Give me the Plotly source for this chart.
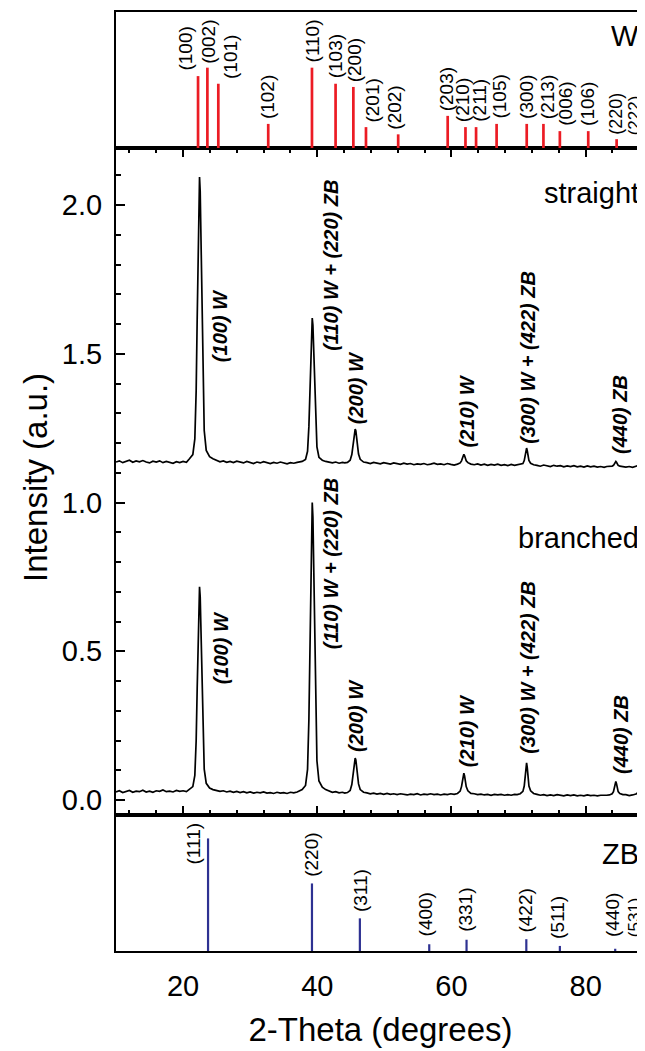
import plotly.graph_objects as go

FONT = "Liberation Sans, Arial, Helvetica, sans-serif"

# ---------------- data ----------------
# Wurtzite (W) reference pattern
W_hkl = ["(100)", "(002)", "(101)", "(102)", "(110)", "(103)", "(200)", "(201)", "(202)",
         "(203)", "(210)", "(211)", "(105)", "(300)", "(213)", "(006)", "(106)", "(220)", "(222)"]
W_pos = [22.23, 23.62, 25.25, 32.69, 39.21, 42.73, 45.38, 47.26, 52.06,
         59.44, 62.09, 63.67, 66.73, 71.22, 73.71, 76.16, 80.39, 84.62, 89.0]
W_int = [89.5, 100, 80, 30, 100, 80, 76, 26, 17,
         40, 26, 26, 30, 30, 30, 21, 21, 11, 12]

# Zinc blende (ZB) reference pattern
ZB_hkl = ["(111)", "(220)", "(311)", "(400)", "(331)", "(422)", "(511)", "(440)", "(531)"]
ZB_pos = [23.72, 39.21, 46.35, 56.69, 62.25, 71.16, 76.16, 84.41, 89.0]
ZB_int = [100, 60, 29, 6, 10, 10.5, 4.5, 2, 4]

# Measured patterns (2-theta, intensity)
two_theta = [
    10.0, 10.5, 11.0, 11.5, 12.0, 12.5, 13.0, 13.5, 14.0, 14.5, 15.0, 15.5, 16.0, 16.5, 17.0, 17.5,
    18.0, 18.5, 19.0, 19.5, 20.0, 20.5,
    20.95, 21.45, 21.75, 21.95, 22.10, 22.25, 22.35, 22.45, 22.55, 22.65, 22.80, 22.95, 23.15, 23.45,
    23.95, 24.45,
    25.0, 25.5, 26.0, 26.5, 27.0, 27.5, 28.0, 28.5, 29.0, 29.5, 30.0, 30.5, 31.0, 31.5, 32.0, 32.5,
    33.0, 33.5, 34.0, 34.5, 35.0, 35.5, 36.0, 36.5, 37.0, 37.4,
    37.75, 38.25, 38.55, 38.75, 38.90, 39.05, 39.15, 39.25, 39.35, 39.45, 39.60, 39.75, 39.95, 40.25,
    40.75, 41.25,
    41.75, 42.25, 42.75, 43.25, 43.75, 44.1,
    44.5, 44.9, 45.15, 45.3, 45.45, 45.55, 45.65, 45.75, 45.85, 46.0, 46.15, 46.4, 46.9,
    47.4, 47.9, 48.4, 48.9, 49.4, 49.9, 50.4, 50.9, 51.4, 51.9, 52.4, 52.9, 53.4, 53.9, 54.4, 54.9,
    55.4, 55.9, 56.4, 56.9, 57.4, 57.9, 58.4, 58.9, 59.4, 59.9, 60.4,
    60.9, 61.3, 61.5, 61.65, 61.75, 61.85, 61.95, 62.05, 62.2, 62.45, 62.9,
    63.4, 63.9, 64.4, 64.9, 65.4, 65.9, 66.4, 66.9, 67.4, 67.9, 68.4, 68.9, 69.4, 69.8,
    70.25, 70.65, 70.85, 71.0, 71.1, 71.2, 71.3, 71.4, 71.55, 71.8, 72.25,
    72.75, 73.25, 73.75, 74.25, 74.75, 75.25, 75.75, 76.25, 76.75, 77.25, 77.75, 78.25, 78.75, 79.25,
    79.75, 80.25, 80.75, 81.25, 81.75, 82.25, 82.75, 83.15,
    83.55, 83.95, 84.15, 84.3, 84.4, 84.5, 84.6, 84.7, 84.85, 85.1, 85.55,
    86.0, 86.5, 87.0, 87.5, 87.9, 88.3, 88.6, 88.9,
]
straight_int = [
    1.136, 1.140, 1.134, 1.139, 1.142, 1.135, 1.140, 1.137, 1.141, 1.136, 1.133, 1.139, 1.136, 1.140,
    1.134, 1.138, 1.135, 1.132, 1.137, 1.134, 1.138, 1.135,
    1.147, 1.161, 1.214, 1.376, 1.616, 1.903, 2.046, 2.094, 2.046, 1.903, 1.616, 1.395, 1.242, 1.175,
    1.154, 1.147,
    1.141, 1.137, 1.140, 1.135, 1.138, 1.134, 1.139, 1.136, 1.133, 1.138, 1.135, 1.131, 1.136, 1.133,
    1.137, 1.134, 1.131, 1.135, 1.132, 1.136, 1.133, 1.130, 1.134, 1.132, 1.135, 1.136,
    1.138, 1.145, 1.172, 1.255, 1.377, 1.523, 1.596, 1.620, 1.596, 1.523, 1.377, 1.265, 1.187, 1.152,
    1.142, 1.138,
    1.136, 1.133, 1.136, 1.132, 1.135, 1.133,
    1.135, 1.142, 1.161, 1.190, 1.224, 1.241, 1.247, 1.241, 1.224, 1.190, 1.163, 1.145, 1.136,
    1.134, 1.131, 1.135, 1.132, 1.130, 1.134, 1.131, 1.129, 1.133, 1.130, 1.128, 1.132, 1.129, 1.131,
    1.127, 1.130, 1.128, 1.131, 1.127, 1.129, 1.132, 1.128, 1.130, 1.127, 1.131, 1.128, 1.126,
    1.129, 1.133, 1.140, 1.150, 1.158, 1.162, 1.158, 1.150, 1.140, 1.134, 1.129,
    1.127, 1.130, 1.126, 1.129, 1.125, 1.128, 1.126, 1.129, 1.125, 1.127, 1.124, 1.128, 1.125, 1.127,
    1.127, 1.131, 1.141, 1.157, 1.174, 1.183, 1.174, 1.157, 1.141, 1.132, 1.127,
    1.125, 1.122, 1.126, 1.123, 1.121, 1.125, 1.122, 1.124, 1.120, 1.123, 1.121, 1.124, 1.120, 1.122,
    1.119, 1.123, 1.120, 1.122, 1.119, 1.121, 1.118, 1.121,
    1.121, 1.122, 1.125, 1.130, 1.135, 1.138, 1.135, 1.130, 1.125, 1.122, 1.121,
    1.119, 1.121, 1.118, 1.122, 1.125, 1.133, 1.137, 1.135,
]
branched_int = [
    0.027, 0.031, 0.025, 0.029, 0.032, 0.026, 0.030, 0.028, 0.033, 0.027, 0.030, 0.026, 0.031, 0.029,
    0.034, 0.028, 0.030, 0.027, 0.032, 0.029, 0.031, 0.028,
    0.035, 0.045, 0.083, 0.200, 0.373, 0.579, 0.683, 0.717, 0.683, 0.579, 0.373, 0.214, 0.104, 0.056,
    0.040, 0.035,
    0.032, 0.029, 0.031, 0.027, 0.030, 0.026, 0.029, 0.025, 0.028, 0.024, 0.027, 0.023, 0.026, 0.024,
    0.027, 0.023, 0.025, 0.022, 0.026, 0.023, 0.025, 0.022, 0.026, 0.024, 0.027, 0.030,
    0.035, 0.049, 0.103, 0.269, 0.513, 0.805, 0.951, 1.000, 0.951, 0.805, 0.513, 0.288, 0.132, 0.064,
    0.043, 0.035,
    0.030, 0.026, 0.028, 0.024, 0.026, 0.023,
    0.025, 0.032, 0.052, 0.082, 0.117, 0.135, 0.141, 0.135, 0.117, 0.082, 0.054, 0.035, 0.026,
    0.024, 0.021, 0.023, 0.020, 0.022, 0.019, 0.022, 0.019, 0.021, 0.018, 0.021, 0.019, 0.017, 0.020,
    0.018, 0.021, 0.017, 0.020, 0.018, 0.021, 0.018, 0.020, 0.017, 0.020, 0.018, 0.021, 0.019,
    0.022, 0.030, 0.045, 0.065, 0.082, 0.090, 0.082, 0.065, 0.045, 0.031, 0.022,
    0.021, 0.018, 0.020, 0.017, 0.019, 0.016, 0.019, 0.017, 0.019, 0.016, 0.018, 0.016, 0.019, 0.018,
    0.021, 0.029, 0.047, 0.077, 0.109, 0.125, 0.109, 0.077, 0.047, 0.031, 0.022,
    0.019, 0.016, 0.018, 0.015, 0.017, 0.015, 0.018, 0.016, 0.014, 0.017, 0.015, 0.017, 0.014, 0.016,
    0.014, 0.017, 0.015, 0.016, 0.014, 0.016, 0.015, 0.016,
    0.017, 0.021, 0.028, 0.041, 0.055, 0.062, 0.055, 0.041, 0.028, 0.022, 0.018,
    0.018, 0.015, 0.017, 0.020, 0.026, 0.036, 0.041, 0.040,
]
assert len(two_theta) == len(straight_int) == len(branched_int)

peak_labels = ["(100) W", "(110) W + (220) ZB", "(200) W", "(210) W", "(300) W + (422) ZB", "(440) ZB"]
sample_names = ["straight", "branched"]
panel_names = ["W", "ZB"]
x_tick_vals = [20, 40, 60, 80]
y_tick_vals = [0.0, 0.5, 1.0, 1.5, 2.0]

# ---------------- layout helpers (positions / styles) ----------------
W_label_x = [20.41, 23.77, 27.03, 32.69, 39.26, 42.73, 45.68, 48.23, 51.49,
             59.29, 61.58, 64.13, 67.19, 71.27, 74.43, 76.87, 80.18, 84.5, 87.3]
W_label_y = [95, 104, 85, 35, 105, 85, 81, 31, 22, 44, 31, 31, 35, 35, 35, 26, 26, 15, 14]
W_label_size = [19] * 17 + [18, 17]
ZB_label_x = [21.58, 39.21, 46.35, 56.2, 62.1, 71.0, 75.9, 84.0, 87.3]
ZB_label_y = [75.7, 65, 34, 12, 15.7, 15.7, 9.5, 11.9, 11.0]
ZB_label_size = [19] * 8 + [17]
peak_label_x = [25.6, 42.0, 45.7, 62.3, 71.3, 85.2]
straight_label_y = [1.469, 1.507, 1.26, 1.183, 1.193, 1.16]
branched_label_y = [0.386, 0.504, 0.158, 0.108, 0.151, 0.084]

RED = "#ec1c24"
BLUE = "#2e3192"
X_RANGE = [10, 88.85]

# the page body adds an 8 px margin, so the figure is built 8 px smaller
PAGE_OFF = 8
FIG_W, FIG_H = 645 - PAGE_OFF, 1051 - PAGE_OFF
PLOT_LEFT = 116 - PAGE_OFF
PLOT_TOP, PLOT_BOT = 12 - PAGE_OFF, 951 - PAGE_OFF
W = FIG_W - PLOT_LEFT


def dom(top_px, bot_px):
    # arguments in reference-image pixels
    return [(951 - bot_px) / (951 - 12), (951 - top_px) / (951 - 12)]


def stick_xy(pos, inten):
    xs, ys = [], []
    for p, v in zip(pos, inten):
        xs += [p, p, None]
        ys += [0, v, None]
    return xs, ys


fig = go.Figure()

# top panel: W reference sticks
wx, wy = stick_xy(W_pos, W_int)
fig.add_trace(go.Scatter(x=wx, y=wy, mode="lines", line=dict(color=RED, width=2.7),
                         xaxis="x3", yaxis="y3", showlegend=False, hoverinfo="skip"))
# bottom panel: ZB reference sticks
zx, zy = stick_xy(ZB_pos, ZB_int)
fig.add_trace(go.Scatter(x=zx, y=zy, mode="lines", line=dict(color=BLUE, width=2.2),
                         xaxis="x", yaxis="y", showlegend=False, hoverinfo="skip"))
# middle panel: measured patterns
fig.add_trace(go.Scatter(x=two_theta, y=straight_int, mode="lines", name=sample_names[0],
                         line=dict(color="black", width=1.7), xaxis="x2", yaxis="y2", showlegend=False))
fig.add_trace(go.Scatter(x=two_theta, y=branched_int, mode="lines", name=sample_names[1],
                         line=dict(color="black", width=1.7), xaxis="x2", yaxis="y2", showlegend=False))

ann = []
for t, lx, ly, fs in zip(W_hkl, W_label_x, W_label_y, W_label_size):
    ann.append(dict(x=lx, y=ly, xref="x3", yref="y3", text=t, textangle=-90, showarrow=False,
                    xanchor="center", yanchor="bottom", borderpad=0,
                    font=dict(family=FONT, size=fs, color="black")))
for t, lx, ly, fs in zip(ZB_hkl, ZB_label_x, ZB_label_y, ZB_label_size):
    ann.append(dict(x=lx, y=ly, xref="x", yref="y", text=t, textangle=-90, showarrow=False,
                    xanchor="center", yanchor="bottom", borderpad=0,
                    font=dict(family=FONT, size=fs, color="black")))
pk_font = dict(family=FONT, size=20, color="black", weight="bold", style="italic")
for ys in (straight_label_y, branched_label_y):
    for t, lx, ly in zip(peak_labels, peak_label_x, ys):
        ann.append(dict(x=lx, y=ly, xref="x2", yref="y2", text=t, textangle=-90, showarrow=False,
                        xanchor="center", yanchor="bottom", font=pk_font, borderpad=0))

big = dict(family=FONT, size=29, color="black")
ann.append(dict(x=88.2, y=2.04, xref="x2", yref="y2", text=sample_names[0], showarrow=False,
                xanchor="right", yanchor="middle", font=big))
ann.append(dict(x=88.2, y=0.882, xref="x2", yref="y2", text=sample_names[1], showarrow=False,
                xanchor="right", yanchor="middle", font=big))
ann.append(dict(x=88.2, y=139, xref="x3", yref="y3", text=panel_names[0], showarrow=False,
                xanchor="right", yanchor="middle", font=big))
ann.append(dict(x=88.2, y=86.4, xref="x", yref="y", text=panel_names[1], showarrow=False,
                xanchor="right", yanchor="middle", font=big))
# y-axis title
ann.append(dict(x=(35 - 116) / W, y=(951 - 478) / (951 - 12), xref="paper", yref="paper",
                text="Intensity (a.u.)", textangle=-90, showarrow=False,
                xanchor="center", yanchor="middle", font=dict(family=FONT, size=33, color="black")))

axis_common = dict(range=X_RANGE, showgrid=False, zeroline=False, showline=True,
                   linecolor="black", linewidth=2)

fig.update_layout(
    width=FIG_W, height=FIG_H,
    margin=dict(l=PLOT_LEFT, r=0, t=PLOT_TOP, b=FIG_H - PLOT_BOT, autoexpand=False),
    paper_bgcolor="white", plot_bgcolor="white",
    font=dict(family=FONT, color="black"),
    showlegend=False,
    annotations=ann,
    # bottom panel (ZB) with the tick labels
    xaxis=dict(**axis_common, anchor="y", mirror=True, ticks="",
               tickmode="array", tickvals=x_tick_vals, ticktext=[str(v) for v in x_tick_vals],
               tickfont=dict(family=FONT, size=29, color="black"), ticklabelstandoff=8,
               title=dict(text="2-Theta (degrees)", font=dict(family=FONT, size=33, color="black"),
                          standoff=17), automargin=False),
    yaxis=dict(domain=dom(815, 951), range=[0, 120.8], showgrid=False, zeroline=False,
               showline=True, linecolor="black", linewidth=2, ticks="", showticklabels=False,
               anchor="x"),
    # middle panel (measured patterns)
    xaxis2=dict(**axis_common, anchor="y2", mirror="ticks", ticks="inside", ticklen=9, tickwidth=1.5,
                tickcolor="black", tickmode="linear", tick0=0, dtick=20, showticklabels=False,
                minor=dict(ticks="inside", ticklen=5, tickwidth=1.5, tickcolor="black",
                           tickmode="linear", tick0=0, dtick=4, showgrid=False),
                matches="x"),
    yaxis2=dict(domain=dom(148, 815), range=[-0.0504, 2.1916], showgrid=False, zeroline=False,
                showline=True, linecolor="black", linewidth=2, anchor="x2",
                ticks="inside", ticklen=9, tickwidth=1.5, tickcolor="black",
                tickmode="array", tickvals=y_tick_vals, ticktext=["%.1f" % v for v in y_tick_vals],
                tickfont=dict(family=FONT, size=29, color="black"), ticklabelstandoff=6,
                minor=dict(ticks="inside", ticklen=5, tickwidth=1.5, tickcolor="black",
                           tickmode="linear", tick0=0, dtick=0.1, showgrid=False),
                automargin=False),
    # top panel (W)
    xaxis3=dict(**axis_common, anchor="y3", mirror=True, ticks="", showticklabels=False, matches="x"),
    yaxis3=dict(domain=dom(12, 148), range=[0, 169.3], showgrid=False, zeroline=False,
                showline=True, linecolor="black", linewidth=2, ticks="", showticklabels=False,
                anchor="x3"),
)

fig.write_html("out.html")
